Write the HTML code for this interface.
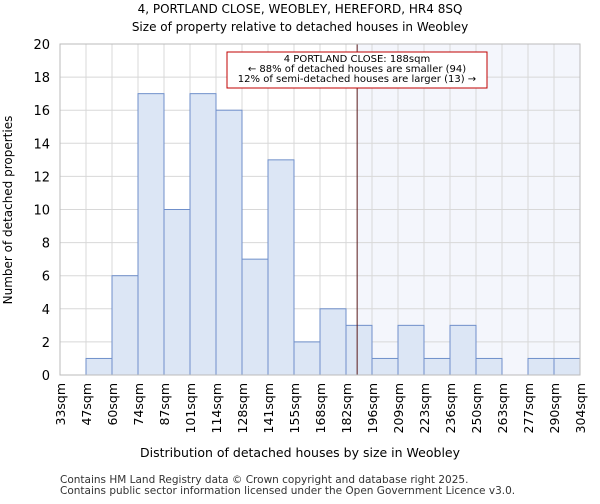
<!DOCTYPE html>
<html><head><meta charset="utf-8"><style>
body{margin:0;background:#fff;font-family:"DejaVu Sans","Liberation Sans",sans-serif}
svg text{font-family:"DejaVu Sans","Liberation Sans",sans-serif}
</style></head><body>
<svg id="chart" width="600" height="500" xmlns="http://www.w3.org/2000/svg">
<text x="300" y="13" font-size="12" text-anchor="middle">4, PORTLAND CLOSE, WEOBLEY, HEREFORD, HR4 8SQ</text>
<text x="300" y="31" font-size="12" text-anchor="middle">Size of property relative to detached houses in Weobley</text>
<g id="plot"></g>
<text x="300" y="457" font-size="12.5" text-anchor="middle">Distribution of detached houses by size in Weobley</text>
<text transform="translate(12,210) rotate(-90)" font-size="12" text-anchor="middle">Number of detached properties</text>
<text x="60" y="483" font-size="10.5" fill="#333">Contains HM Land Registry data © Crown copyright and database right 2025.</text>
<text x="60" y="494" font-size="10.5" fill="#333">Contains public sector information licensed under the Open Government Licence v3.0.</text>
</svg>
<script>
const binLabels=["33sqm","47sqm","60sqm","74sqm","87sqm","101sqm","114sqm","128sqm","141sqm","155sqm","168sqm","182sqm","196sqm","209sqm","223sqm","236sqm","250sqm","263sqm","277sqm","290sqm","304sqm"];
const binEdges=[33,47,60,74,87,101,114,128,141,155,168,182,196,209,223,236,250,263,277,290,304];
const counts=[0,1,6,17,10,17,16,7,13,2,4,3,1,3,1,3,1,0,1,1];
const yTicks=[0,2,4,6,8,10,12,14,16,18,20];
const markerValue=188;
const X0=60,X1=580,Y0=375,Y1=44,NB=counts.length;
const bw=(X1-X0)/NB;
const xi=i=>X0+i*bw;
const y=v=>Y0-(v/20)*(Y0-Y1);
function xv(v){for(let i=0;i<binEdges.length-1;i++){if(v<=binEdges[i+1])return xi(i)+(v-binEdges[i])/(binEdges[i+1]-binEdges[i])*bw;}return X1;}
const ns="http://www.w3.org/2000/svg",g=document.getElementById('plot');
function mk(t,a){const e=document.createElementNS(ns,t);for(const k in a)e.setAttribute(k,a[k]);g.appendChild(e);return e;}
const mx=xv(markerValue);
let e=mk('rect',{x:mx,y:Y1,width:X1-mx,height:Y0-Y1,fill:'#f4f6fc'});


yTicks.forEach(t=>{let l=mk('line',{x1:X0,x2:X1,y1:y(t),y2:y(t),stroke:'#d8d8d8'});


let tx=mk('text',{x:X0-10,y:y(t)+5,'font-size':13,'text-anchor':'end'});tx.textContent=t;

});
binLabels.forEach((s,i)=>{let l=mk('line',{x1:xi(i),x2:xi(i),y1:Y1,y2:Y0,stroke:'#d8d8d8'});


let tx=mk('text',{transform:`translate(${xi(i)+5},${Y0+8}) rotate(-90)`,'font-size':12.5,'text-anchor':'end'});tx.textContent=s;

});
counts.forEach((c,i)=>{if(c<=0)return;let r=mk('rect',{x:xi(i),y:y(c),width:bw,height:Y0-y(c),fill:'#dce6f5',stroke:'#6f8fca','stroke-width':1});

});
e=mk('line',{x1:mx,x2:mx,y1:Y1,y2:Y0,stroke:'#5a1a1a','stroke-width':1});


e=mk('rect',{x:X0,y:Y1,width:X1-X0,height:Y0-Y1,fill:'none',stroke:'#bbb'});


e=mk('rect',{x:227,y:52,width:260,height:36,fill:'#fff',stroke:'#c00000','stroke-width':1});


["4 PORTLAND CLOSE: 188sqm","← 88% of detached houses are smaller (94)","12% of semi-detached houses are larger (13) →"].forEach((s,i)=>{let t=mk('text',{x:357,y:62+i*10,'font-size':10,'text-anchor':'middle'});t.textContent=s;

});
</script>
</body></html>
